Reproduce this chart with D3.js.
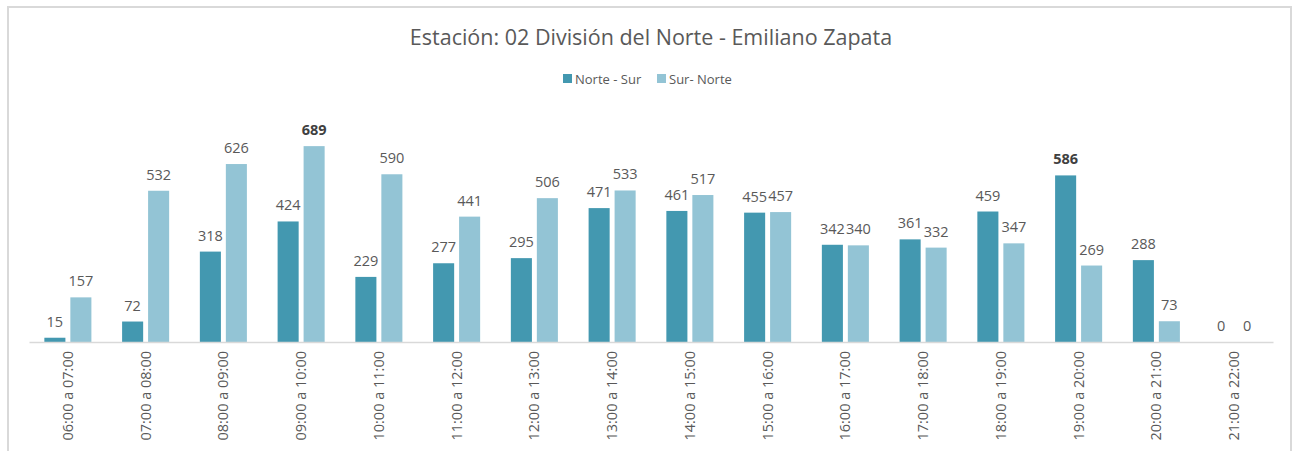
<!DOCTYPE html>
<html>
<head>
<meta charset="utf-8">
<script src="https://cdn.jsdelivr.net/npm/d3@7"></script>
<style>
  body { margin: 0; background: #fff; }
  svg { display: block; font-family: "Open Sans", "Noto Sans", sans-serif; }
</style>
</head>
<body>
<div id="chart"></div>
<script>
const categories = ["06:00 a 07:00", "07:00 a 08:00", "08:00 a 09:00", "09:00 a 10:00",
    "10:00 a 11:00", "11:00 a 12:00", "12:00 a 13:00", "13:00 a 14:00", "14:00 a 15:00",
    "15:00 a 16:00", "16:00 a 17:00", "17:00 a 18:00", "18:00 a 19:00", "19:00 a 20:00",
    "20:00 a 21:00", "21:00 a 22:00"];
const seriesNames = ["Norte - Sur", "Sur- Norte"];
const norteSur = [15, 72, 318, 424, 229, 277, 295, 471, 461, 455, 342, 361, 459, 586, 288, 0];
const surNorte = [157, 532, 626, 689, 590, 441, 506, 533, 517, 457, 340, 332, 347, 269, 73, 0];
const boldLabels = [["Sur- Norte", 3], ["Norte - Sur", 13]];

const width = 1293, height = 451;
const colors = { "Norte - Sur": "#4398B0", "Sur- Norte": "#93C4D5" };
const textColor = "#595959";

const svg = d3.select("#chart").append("svg")
    .attr("width", width)
    .attr("height", height);

// chart border
svg.append("path")
    .attr("d", `M8,${height} V7 H1291 V${height}`)
    .attr("fill", "none")
    .attr("stroke", "#d9d9d9")
    .attr("stroke-width", 2);

svg.append("text")
    .attr("x", 651)
    .attr("y", 45)
    .attr("text-anchor", "middle")
    .style("font-size", "21.5px")
    .style("fill", textColor)
    .text("Estación: 02 División del Norte - Emiliano Zapata");

// legend
const legend = svg.append("g").attr("transform", "translate(563, 79)");
const legendX = [0, 94];
seriesNames.forEach((name, i) => {
    const g = legend.append("g").attr("transform", `translate(${legendX[i]}, 0)`);
    g.append("rect")
        .attr("x", 0).attr("y", -5)
        .attr("width", 9).attr("height", 9)
        .attr("fill", colors[name]);
    g.append("text")
        .attr("x", 12).attr("y", 5)
        .style("font-size", "13px")
        .style("fill", textColor)
        .text(name);
});

const rows = categories.map((c, i) => ({ cat: c, values: [
    { key: seriesNames[0], value: norteSur[i], idx: i },
    { key: seriesNames[1], value: surNorte[i], idx: i }
]}));

const x0 = d3.scaleBand()
    .domain(categories)
    .range([29, 1273])
    .paddingInner(0.395)
    .paddingOuter(0.1975);

const x1 = d3.scaleBand()
    .domain(seriesNames)
    .range([0, x0.bandwidth()])
    .paddingInner(0.19);

const y = d3.scaleLinear()
    .domain([0, 700])
    .range([342, 143]);

const groups = svg.append("g").selectAll("g")
    .data(rows)
    .enter()
    .append("g")
    .attr("transform", d => `translate(${x0(d.cat)},0)`);

groups.selectAll("rect")
    .data(d => d.values)
    .enter()
    .append("rect")
    .attr("x", d => x1(d.key))
    .attr("y", d => y(d.value))
    .attr("width", x1.bandwidth())
    .attr("height", d => y(0) - y(d.value))
    .attr("fill", d => colors[d.key]);

const isBold = d => boldLabels.some(b => b[0] === d.key && b[1] === d.idx);

groups.selectAll("text")
    .data(d => d.values)
    .enter()
    .append("text")
    .attr("x", d => x1(d.key) + x1.bandwidth() / 2)
    .attr("y", d => y(d.value) - 11)
    .attr("text-anchor", "middle")
    .style("font-size", "14.5px")
    .style("font-weight", d => isBold(d) ? "bold" : "normal")
    .style("fill", d => isBold(d) ? "#404040" : textColor)
    .text(d => d.value);

// x axis
const xAxis = svg.append("g")
    .attr("transform", "translate(0,342)")
    .call(d3.axisBottom(x0).tickSize(0).tickPadding(0));

xAxis.select(".domain")
    .attr("stroke", "#d9d9d9")
    .attr("stroke-width", 1.5);

xAxis.selectAll("text")
    .attr("transform", "rotate(-90)")
    .attr("x", -9)
    .attr("y", 0)
    .attr("dy", "0.35em")
    .attr("text-anchor", "end")
    .style("font-family", "\"Open Sans\", \"Noto Sans\", sans-serif")
    .style("font-size", "14.5px")
    .style("fill", textColor);
</script>
</body>
</html>
